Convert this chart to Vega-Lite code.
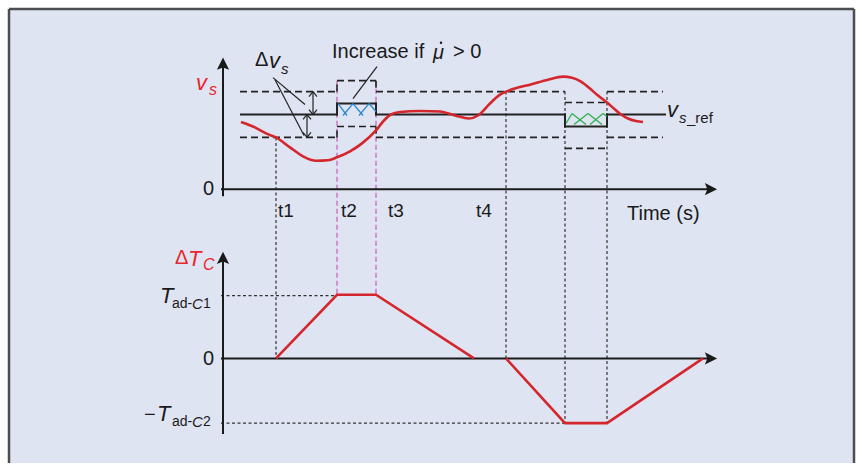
{
  "$schema": "https://vega.github.io/schema/vega-lite/v6.json",
  "width": 862,
  "height": 465,
  "autosize": {"type": "fit", "contains": "padding"},
  "padding": 0,
  "background": "#ffffff",
  "config": {"view": {"stroke": null}, "text": {"font": "Liberation Sans"}},
  "datasets": {
    "frame": [{"x": 9, "y": 9, "x2": 854, "y2": 465}],
    "border": [
      {"x": 9, "y": 9, "x2": 854, "y2": 9},
      {"x": 9, "y": 9, "x2": 9, "y2": 465},
      {"x": 854, "y": 9, "x2": 854, "y2": 465}
    ],
    "seg": [
      {"k": "band", "x": 240, "y": 92, "x2": 337, "y2": 92},
      {"k": "band", "x": 337, "y": 92, "x2": 337, "y2": 81},
      {"k": "band", "x": 337, "y": 81, "x2": 376, "y2": 81},
      {"k": "band", "x": 376, "y": 81, "x2": 376, "y2": 92},
      {"k": "band", "x": 376, "y": 92, "x2": 565, "y2": 92},
      {"k": "band", "x": 565, "y": 103, "x2": 607, "y2": 103},
      {"k": "band", "x": 607, "y": 92, "x2": 663, "y2": 92},
      {"k": "band", "x": 240, "y": 138, "x2": 337, "y2": 138},
      {"k": "band", "x": 337, "y": 138, "x2": 337, "y2": 127},
      {"k": "band", "x": 337, "y": 127, "x2": 376, "y2": 127},
      {"k": "band", "x": 376, "y": 127, "x2": 376, "y2": 138},
      {"k": "band", "x": 376, "y": 138, "x2": 565, "y2": 138},
      {"k": "band", "x": 565, "y": 149, "x2": 607, "y2": 149},
      {"k": "band", "x": 607, "y": 138, "x2": 663, "y2": 138},
      {"k": "ref", "x": 241, "y": 115, "x2": 337, "y2": 115},
      {"k": "ref", "x": 337, "y": 115, "x2": 337, "y2": 104},
      {"k": "ref", "x": 337, "y": 104, "x2": 376, "y2": 104},
      {"k": "ref", "x": 376, "y": 104, "x2": 376, "y2": 115},
      {"k": "ref", "x": 376, "y": 115, "x2": 565, "y2": 115},
      {"k": "ref", "x": 565, "y": 115, "x2": 565, "y2": 127},
      {"k": "ref", "x": 565, "y": 127, "x2": 607, "y2": 127},
      {"k": "ref", "x": 607, "y": 127, "x2": 607, "y2": 115},
      {"k": "ref", "x": 607, "y": 115, "x2": 665, "y2": 115},
      {"k": "lead", "x": 273, "y": 78, "x2": 305, "y2": 105},
      {"k": "lead", "x": 275, "y": 80, "x2": 304, "y2": 136},
      {"k": "lead", "x": 377, "y": 67, "x2": 353, "y2": 99},
      {"k": "lead", "x": 313, "y": 92, "x2": 313, "y2": 115},
      {"k": "lead", "x": 309, "y": 97, "x2": 313, "y2": 92},
      {"k": "lead", "x": 317, "y": 97, "x2": 313, "y2": 92},
      {"k": "lead", "x": 309, "y": 110, "x2": 313, "y2": 115},
      {"k": "lead", "x": 317, "y": 110, "x2": 313, "y2": 115},
      {"k": "lead", "x": 307, "y": 115, "x2": 307, "y2": 138},
      {"k": "lead", "x": 303, "y": 120, "x2": 307, "y2": 115},
      {"k": "lead", "x": 311, "y": 120, "x2": 307, "y2": 115},
      {"k": "lead", "x": 303, "y": 133, "x2": 307, "y2": 138},
      {"k": "lead", "x": 311, "y": 133, "x2": 307, "y2": 138},
      {"k": "axis", "x": 223, "y": 64, "x2": 223, "y2": 197},
      {"k": "axis", "x": 221, "y": 190, "x2": 711, "y2": 190},
      {"k": "axis", "x": 223, "y": 259, "x2": 223, "y2": 436},
      {"k": "axis", "x": 221, "y": 360, "x2": 711, "y2": 360},
      {"k": "guide", "x": 276, "y": 138, "x2": 276, "y2": 360},
      {"k": "guide", "x": 506, "y": 92, "x2": 506, "y2": 360},
      {"k": "guide", "x": 565, "y": 92, "x2": 565, "y2": 425},
      {"k": "guide", "x": 607, "y": 92, "x2": 607, "y2": 425},
      {"k": "guide", "x": 221, "y": 297, "x2": 337, "y2": 297},
      {"k": "guide", "x": 221, "y": 425, "x2": 565, "y2": 425},
      {"k": "pink", "x": 337, "y": 81, "x2": 337, "y2": 297},
      {"k": "pink", "x": 376, "y": 81, "x2": 376, "y2": 297},
      {"k": "blue", "x": 338, "y": 104, "x2": 347, "y2": 116},
      {"k": "blue", "x": 343, "y": 116, "x2": 353, "y2": 104},
      {"k": "blue", "x": 353, "y": 104, "x2": 363, "y2": 116},
      {"k": "blue", "x": 359, "y": 116, "x2": 369, "y2": 104},
      {"k": "blue", "x": 369, "y": 104, "x2": 376, "y2": 112},
      {"k": "green", "x": 566, "y": 124, "x2": 572, "y2": 114},
      {"k": "green", "x": 572, "y": 114, "x2": 586, "y2": 125},
      {"k": "green", "x": 574, "y": 125, "x2": 588, "y2": 114},
      {"k": "green", "x": 588, "y": 114, "x2": 602, "y2": 125},
      {"k": "green", "x": 590, "y": 125, "x2": 603, "y2": 114},
      {"k": "green", "x": 603, "y": 114, "x2": 607, "y2": 117}
    ],
    "vs": [
      {"x": 241, "y": 122.5}, {"x": 255, "y": 128}, {"x": 266, "y": 134}, {"x": 276, "y": 138},
      {"x": 290, "y": 148}, {"x": 303, "y": 157}, {"x": 316, "y": 161.5}, {"x": 328, "y": 161},
      {"x": 337, "y": 158}, {"x": 350, "y": 152}, {"x": 362, "y": 144}, {"x": 376, "y": 131},
      {"x": 384, "y": 121}, {"x": 391, "y": 115}, {"x": 400, "y": 112.5}, {"x": 420, "y": 111.5},
      {"x": 440, "y": 112}, {"x": 455, "y": 116}, {"x": 469, "y": 119}, {"x": 478, "y": 116},
      {"x": 490, "y": 104}, {"x": 500, "y": 95}, {"x": 506, "y": 92}, {"x": 518, "y": 88},
      {"x": 530, "y": 85}, {"x": 548, "y": 80}, {"x": 563, "y": 77}, {"x": 572, "y": 78},
      {"x": 581, "y": 82}, {"x": 590, "y": 89}, {"x": 598, "y": 96}, {"x": 607, "y": 103},
      {"x": 615, "y": 110}, {"x": 621, "y": 115}, {"x": 628, "y": 119}, {"x": 636, "y": 121.5},
      {"x": 643, "y": 122.5}
    ],
    "dt": [
      {"g": "a", "x": 276, "y": 360}, {"g": "a", "x": 337, "y": 296},
      {"g": "a", "x": 376, "y": 296}, {"g": "a", "x": 474, "y": 360},
      {"g": "b", "x": 506, "y": 360}, {"g": "b", "x": 565, "y": 425},
      {"g": "b", "x": 607, "y": 425}, {"g": "b", "x": 703, "y": 360}
    ],
    "arrowR": [{"x": 711, "y": 190}, {"x": 711, "y": 360}],
    "arrowU": [{"x": 223, "y": 64}, {"x": 223, "y": 259}],
    "dot": [{"x": 441, "y": 43}],
    "txt": [
      {"f": "n20", "x": 203, "y": 190, "t": "0"},
      {"f": "n20", "x": 203, "y": 361, "t": "0"},
      {"f": "n20", "x": 332, "y": 52, "t": "Increase if"},
      {"f": "n20", "x": 453, "y": 52, "t": "> 0"},
      {"f": "n20", "x": 627, "y": 215, "t": "Time (s)"},
      {"f": "n20", "x": 144, "y": 417, "t": "−"},
      {"f": "n19", "x": 278, "y": 212, "t": "t1"},
      {"f": "n19", "x": 341, "y": 212, "t": "t2"},
      {"f": "n19", "x": 388, "y": 212, "t": "t3"},
      {"f": "n19", "x": 476, "y": 212, "t": "t4"},
      {"f": "d20", "x": 255, "y": 60, "t": "Δ"},
      {"f": "i22", "x": 269, "y": 61, "t": "v"},
      {"f": "i22", "x": 667, "y": 110, "t": "v"},
      {"f": "i22", "x": 160, "y": 297, "t": "T"},
      {"f": "i22", "x": 157, "y": 416, "t": "T"},
      {"f": "i20", "x": 433, "y": 53, "t": "μ"},
      {"f": "i15", "x": 281, "y": 69, "t": "s"},
      {"f": "i15", "x": 679, "y": 119, "t": "s"},
      {"f": "i15", "x": 192, "y": 305, "t": "C"},
      {"f": "i15", "x": 192, "y": 424, "t": "C"},
      {"f": "n15", "x": 687, "y": 119, "t": "_ref"},
      {"f": "n14", "x": 172, "y": 305, "t": "ad-"},
      {"f": "n14", "x": 203, "y": 305, "t": "1"},
      {"f": "n14", "x": 172, "y": 424, "t": "ad-"},
      {"f": "n14", "x": 203, "y": 424, "t": "2"},
      {"f": "rd20", "x": 175, "y": 259, "t": "Δ"},
      {"f": "ri22", "x": 188, "y": 260, "t": "T"},
      {"f": "ri15", "x": 203, "y": 266, "t": "C"},
      {"f": "ri22", "x": 196, "y": 83, "t": "v"},
      {"f": "ri15", "x": 209, "y": 90, "t": "s"}
    ]
  },
  "encoding": {
    "x": {"field": "x", "type": "quantitative", "scale": {"domain": [0, 862], "nice": false, "zero": false}, "axis": null},
    "y": {"field": "y", "type": "quantitative", "scale": {"domain": [0, 465], "nice": false, "zero": false, "reverse": true}, "axis": null}
  },
  "layer": [
    {"data": {"name": "frame"}, "mark": {"type": "rect", "fill": "#dfe4f2", "strokeWidth": 0},
     "encoding": {"x2": {"field": "x2"}, "y2": {"field": "y2"}}},
    {"data": {"name": "border"}, "mark": {"type": "rule", "color": "#4d4d4f", "strokeWidth": 2.5},
     "encoding": {"x2": {"field": "x2"}, "y2": {"field": "y2"}}},
    {"data": {"name": "seg"}, "transform": [{"filter": "datum.k === 'guide'"}],
     "mark": {"type": "rule", "color": "#333333", "strokeWidth": 1.2, "strokeDash": [3, 2.5]},
     "encoding": {"x2": {"field": "x2"}, "y2": {"field": "y2"}}},
    {"data": {"name": "seg"}, "transform": [{"filter": "datum.k === 'pink'"}],
     "mark": {"type": "rule", "color": "#c965b8", "strokeWidth": 1.3, "strokeDash": [5, 3]},
     "encoding": {"x2": {"field": "x2"}, "y2": {"field": "y2"}}},
    {"data": {"name": "seg"}, "transform": [{"filter": "datum.k === 'band'"}],
     "mark": {"type": "rule", "color": "#222222", "strokeWidth": 1.6, "strokeDash": [7, 4]},
     "encoding": {"x2": {"field": "x2"}, "y2": {"field": "y2"}}},
    {"data": {"name": "seg"}, "transform": [{"filter": "datum.k === 'ref'"}],
     "mark": {"type": "rule", "color": "#222222", "strokeWidth": 2, "strokeCap": "square"},
     "encoding": {"x2": {"field": "x2"}, "y2": {"field": "y2"}}},
    {"data": {"name": "seg"}, "transform": [{"filter": "datum.k === 'lead'"}],
     "mark": {"type": "rule", "color": "#222222", "strokeWidth": 1.2},
     "encoding": {"x2": {"field": "x2"}, "y2": {"field": "y2"}}},
    {"data": {"name": "seg"}, "transform": [{"filter": "datum.k === 'blue'"}],
     "mark": {"type": "rule", "color": "#2a87cf", "strokeWidth": 1.3},
     "encoding": {"x2": {"field": "x2"}, "y2": {"field": "y2"}}},
    {"data": {"name": "seg"}, "transform": [{"filter": "datum.k === 'green'"}],
     "mark": {"type": "rule", "color": "#2eae4e", "strokeWidth": 1.3},
     "encoding": {"x2": {"field": "x2"}, "y2": {"field": "y2"}}},
    {"data": {"name": "seg"}, "transform": [{"filter": "datum.k === 'axis'"}],
     "mark": {"type": "rule", "color": "#1a1a1a", "strokeWidth": 2},
     "encoding": {"x2": {"field": "x2"}, "y2": {"field": "y2"}}},
    {"data": {"name": "vs"}, "mark": {"type": "line", "color": "#d4262c", "strokeWidth": 2.6, "interpolate": "monotone"},
     "encoding": {}},
    {"data": {"name": "dt"}, "mark": {"type": "line", "color": "#d4262c", "strokeWidth": 2.6},
     "encoding": {"detail": {"field": "g"}}},
    {"data": {"name": "arrowR"}, "mark": {"type": "point", "shape": "M1,0L-1,-1L-0.6,0L-1,1Z", "filled": true, "size": 150, "color": "#1a1a1a", "opacity": 1, "strokeWidth": 0}},
    {"data": {"name": "arrowU"}, "mark": {"type": "point", "shape": "M0,-1L1,1L0,0.6L-1,1Z", "filled": true, "size": 150, "color": "#1a1a1a", "opacity": 1, "strokeWidth": 0}},
    {"data": {"name": "dot"}, "mark": {"type": "point", "shape": "circle", "filled": true, "size": 6, "color": "#1a1a1a", "opacity": 1, "strokeWidth": 0}},
    {"data": {"name": "txt"}, "transform": [{"filter": "datum.f === 'n20'"}],
     "mark": {"type": "text", "align": "left", "baseline": "middle", "fontSize": 20, "color": "#1a1a1a"},
     "encoding": {"text": {"field": "t"}}},
    {"data": {"name": "txt"}, "transform": [{"filter": "datum.f === 'n19'"}],
     "mark": {"type": "text", "align": "left", "baseline": "middle", "fontSize": 19, "color": "#1a1a1a"},
     "encoding": {"text": {"field": "t"}}},
    {"data": {"name": "txt"}, "transform": [{"filter": "datum.f === 'd20'"}],
     "mark": {"type": "text", "align": "left", "baseline": "middle", "fontSize": 20, "color": "#1a1a1a"},
     "encoding": {"text": {"field": "t"}}},
    {"data": {"name": "txt"}, "transform": [{"filter": "datum.f === 'n15'"}],
     "mark": {"type": "text", "align": "left", "baseline": "middle", "fontSize": 15, "color": "#1a1a1a"},
     "encoding": {"text": {"field": "t"}}},
    {"data": {"name": "txt"}, "transform": [{"filter": "datum.f === 'n14'"}],
     "mark": {"type": "text", "align": "left", "baseline": "middle", "fontSize": 14, "color": "#1a1a1a"},
     "encoding": {"text": {"field": "t"}}},
    {"data": {"name": "txt"}, "transform": [{"filter": "datum.f === 'i22'"}],
     "mark": {"type": "text", "align": "left", "baseline": "middle", "fontSize": 22, "fontStyle": "italic", "color": "#1a1a1a"},
     "encoding": {"text": {"field": "t"}}},
    {"data": {"name": "txt"}, "transform": [{"filter": "datum.f === 'i20'"}],
     "mark": {"type": "text", "align": "left", "baseline": "middle", "fontSize": 20, "fontStyle": "italic", "color": "#1a1a1a"},
     "encoding": {"text": {"field": "t"}}},
    {"data": {"name": "txt"}, "transform": [{"filter": "datum.f === 'i15'"}],
     "mark": {"type": "text", "align": "left", "baseline": "middle", "fontSize": 15, "fontStyle": "italic", "color": "#1a1a1a"},
     "encoding": {"text": {"field": "t"}}},
    {"data": {"name": "txt"}, "transform": [{"filter": "datum.f === 'rd20'"}],
     "mark": {"type": "text", "align": "left", "baseline": "middle", "fontSize": 20, "color": "#e8262c"},
     "encoding": {"text": {"field": "t"}}},
    {"data": {"name": "txt"}, "transform": [{"filter": "datum.f === 'ri22'"}],
     "mark": {"type": "text", "align": "left", "baseline": "middle", "fontSize": 22, "fontStyle": "italic", "color": "#e8262c"},
     "encoding": {"text": {"field": "t"}}},
    {"data": {"name": "txt"}, "transform": [{"filter": "datum.f === 'ri15'"}],
     "mark": {"type": "text", "align": "left", "baseline": "middle", "fontSize": 16, "fontStyle": "italic", "color": "#e8262c"},
     "encoding": {"text": {"field": "t"}}}
  ]
}
